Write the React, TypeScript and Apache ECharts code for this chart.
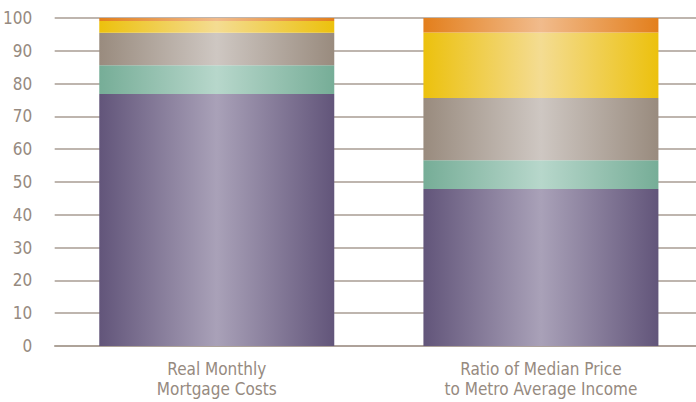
import React, { useEffect, useRef } from "react";
import * as echarts from "echarts";

const categories = ["Real Monthly\nMortgage Costs", "Ratio of Median Price\nto Metro Average Income"];
const seriesNames = ["Purple", "Teal", "Gray", "Yellow", "Orange"];
const purpleValues = [76.8, 47.9];
const tealValues = [8.8, 8.7];
const grayValues = [9.9, 19.0];
const yellowValues = [3.6, 20.0];
const orangeValues = [0.9, 4.4];
const yTicks = [0, 10, 20, 30, 40, 50, 60, 70, 80, 90, 100];

const palette: [string, string][] = [
  ["#62557a", "#a9a1b8"],
  ["#76ad97", "#b7d7cb"],
  ["#998b7e", "#cec7c2"],
  ["#ecc10d", "#f4dc92"],
  ["#e37f1c", "#f1bb8c"],
];

const grad = (edge: string, mid: string) =>
  new echarts.graphic.LinearGradient(0, 0, 1, 0, [
    { offset: 0, color: edge },
    { offset: 0.5, color: mid },
    { offset: 1, color: edge },
  ]);

export default function App() {
  const ref = useRef<HTMLDivElement>(null);
  useEffect(() => {
    if (!ref.current) return;
    const chart = echarts.init(ref.current, undefined, { renderer: "svg" });
    const data = [purpleValues, tealValues, grayValues, yellowValues, orangeValues];
    const font = "'Liberation Sans Narrow', 'DejaVu Sans Condensed', 'Roboto', sans-serif";
    chart.setOption({
      animation: false,
      grid: { left: 54.5, right: 0, top: 18, bottom: 56, containLabel: false },
      xAxis: {
        type: "category",
        data: categories,
        axisLine: { show: true, lineStyle: { color: "#a99d93", width: 1.5 } },
        axisTick: { show: false },
        axisLabel: {
          color: "#968a80",
          fontFamily: font,
          fontSize: 17,
          lineHeight: 20,
          margin: 13,
        },
      },
      yAxis: {
        type: "value",
        min: 0,
        max: 100,
        interval: 10,
        axisLine: { show: false },
        axisTick: { show: false },
        axisLabel: {
          color: "#968a80",
          fontFamily: font,
          fontSize: 17,
          margin: 22.5,
          formatter: (v: number) => (yTicks.includes(v) ? String(v) : ""),
        },
        splitLine: { lineStyle: { color: "#a99d93", width: 1.5 } },
      },
      series: seriesNames.map((name, i) => ({
        name,
        type: "bar",
        stack: "total",
        barWidth: 235,
        data: data[i],
        itemStyle: { color: grad(palette[i][0], palette[i][1]) },
      })),
    });
    return () => chart.dispose();
  }, []);
  return (
    <div style={{ position: "fixed", left: 0, top: 0, width: 696, height: 402, overflow: "hidden", background: "#fff" }}>
      <div ref={ref} style={{ width: 702.5, height: 402 }} />
    </div>
  );
}
